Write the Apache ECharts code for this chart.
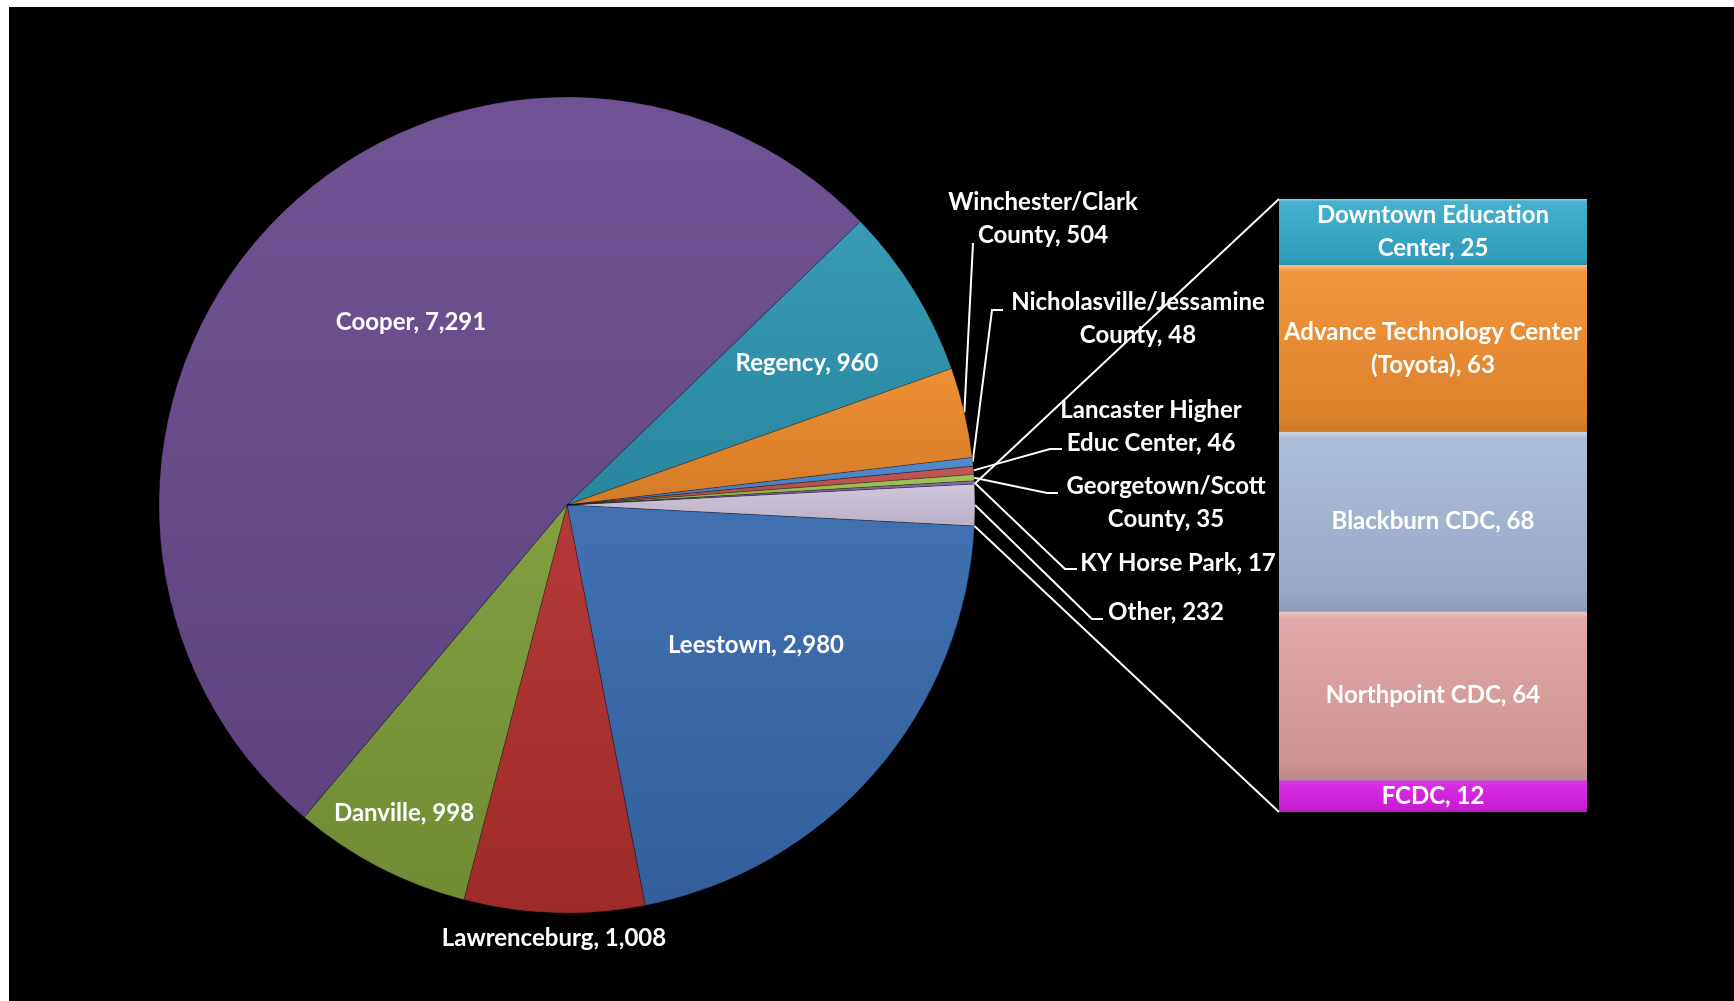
<!DOCTYPE html>
<html><head><meta charset="utf-8">
<script src="https://cdn.jsdelivr.net/npm/echarts@6/dist/echarts.min.js"></script>
<style>
html,body{margin:0;padding:0;background:#fff;overflow:hidden;}
#chart{position:absolute;left:9px;top:7px;width:1725px;height:994px;background:#000;}
</style></head><body><div id="chart"></div>
<script>
// ---- data ----
const pieNames = ['Other', 'Leestown', 'Lawrenceburg', 'Danville', 'Cooper', 'Regency',
  'Winchester/Clark County', 'Nicholasville/Jessamine County', 'Lancaster Higher Educ Center',
  'Georgetown/Scott County', 'KY Horse Park'];
const pieValues = [232, 2980, 1008, 998, 7291, 960, 504, 48, 46, 35, 17];
const barNames = ['Downtown Education Center', 'Advance Technology Center (Toyota)', 'Blackburn CDC', 'Northpoint CDC', 'FCDC'];
const barValues = [25, 63, 68, 64, 12];

// ---- styles ----
const pieColors = ['#cdc4dc', '#376aad', '#b0302e', '#7c9a38', '#684a8e', '#2d95b0',
  '#ec892a', '#4a86cc', '#c0504d', '#9bc250', '#8064a2'];
const barColors = ['#35aaca', '#f08c2e', '#a5b7d6', '#dfa0a0', '#d81ee4'];
const FONT = 'Lato';
const FS = 24;

// label layout (chart pixel coords)
const pieLabelSpec = {
  'Cooper': {x: 402, y: 315},
  'Regency': {x: 798, y: 356},
  'Leestown': {x: 747, y: 638},
  'Danville': {x: 395, y: 806},
  'Lawrenceburg': {x: 545, y: 931},
  'Winchester/Clark County': {x: 1034, y: 212, line: [964, 236], elbow: 0},
  'Nicholasville/Jessamine County': {x: 1129, y: 312, line: [994, 303], elbow: 11},
  'Lancaster Higher Educ Center': {x: 1142, y: 420, line: [1053, 442], elbow: 12},
  'Georgetown/Scott County': {x: 1157, y: 496, line: [1049, 486], elbow: 11},
  'KY Horse Park': {x: 1169, y: 556, line: [1068, 562], elbow: 12},
  'Other': {x: 1157, y: 605, line: [1094, 612], elbow: 11}
};

function shade(hex, f) {
  const n = parseInt(hex.slice(1), 16);
  let r = (n >> 16) & 255, g = (n >> 8) & 255, b = n & 255;
  const t = f < 0 ? 0 : 255, p = Math.abs(f);
  r = Math.round((t - r) * p + r); g = Math.round((t - g) * p + g); b = Math.round((t - b) * p + b);
  return 'rgb(' + r + ',' + g + ',' + b + ')';
}
function pieGrad(c) {
  return new echarts.graphic.LinearGradient(0, 0, 0, 1, [
    {offset: 0, color: shade(c, 0.05)},
    {offset: 1, color: shade(c, -0.1)}
  ]);
}
function barGrad(c) {
  return new echarts.graphic.LinearGradient(0, 0, 0, 1, [
    {offset: 0, color: shade(c, 0.45)},
    {offset: 0.04, color: shade(c, 0.08)},
    {offset: 0.9, color: shade(c, -0.08)},
    {offset: 1, color: shade(c, -0.15)}
  ]);
}
function wrap(text, max) {
  const words = text.split(' ');
  const lines = [];
  let cur = '';
  for (const w of words) {
    if (cur && (cur + ' ' + w).length > max) { lines.push(cur); cur = w; }
    else cur = cur ? cur + ' ' + w : w;
  }
  lines.push(cur);
  return lines.join('\n');
}
const fmt = v => v.toLocaleString('en-US');
const pieTotal = pieValues.reduce((a, b) => a + b, 0);
const barTotal = barValues.reduce((a, b) => a + b, 0);

const labelStyle = {color: '#fff', fontFamily: FONT, fontWeight: 'bold', fontSize: FS, lineHeight: 33};

const chart = echarts.init(document.getElementById('chart'));

const option = {
  backgroundColor: '#000',
  animation: false,
  grid: {left: 1270, top: 192, width: 308, height: 613},
  xAxis: {type: 'category', data: ['Other'], show: false},
  yAxis: {type: 'value', min: 0, max: barTotal, inverse: true, show: false},
  series: [
    {
      type: 'pie',
      center: [558, 498],
      radius: 408,
      startAngle: 360 * pieValues[0] / pieTotal / 2,
      clockwise: true,
      avoidLabelOverlap: false,
      data: pieNames.map((n, i) => ({
        name: n, value: pieValues[i],
        itemStyle: {color: pieGrad(pieColors[i])},
        labelLine: {show: !!pieLabelSpec[n].line}
      })),
      itemStyle: {borderColor: 'rgba(0,0,0,0.25)', borderWidth: 1},
      label: Object.assign({
        show: true, position: 'outside',
        formatter: p => {
          const t = p.name + ', ' + fmt(p.value);
          return p.value / pieTotal < 0.05 ? wrap(t, 17) : t;
        }
      }, labelStyle),
      labelLine: {show: true, length: 10, length2: 10, lineStyle: {color: '#fff', width: 2}},
      labelLayout: function (p) {
        const s = pieLabelSpec[pieNames[p.dataIndex]];
        const out = {x: s.x, y: s.y, align: 'center', verticalAlign: 'middle'};
        if (s.line && p.labelLinePoints && p.labelLinePoints[0]) {
          const a = p.labelLinePoints[0];
          out.labelLinePoints = [a, [s.line[0] - s.elbow, s.line[1]], s.line];
        }
        return out;
      },
      emphasis: {disabled: true}
    }
  ].concat(barNames.map((n, i) => ({
    type: 'bar', name: n, stack: 'other', barWidth: '100%',
    data: [barValues[i]],
    itemStyle: {color: barGrad(barColors[i])},
    label: Object.assign({
      show: true, position: 'inside',
      formatter: () => wrap(n + ', ' + fmt(barValues[i]), 25)
    }, labelStyle),
    emphasis: {disabled: true}
  })))
};
chart.setOption(option);

// connector lines from the "Other" slice to the bar
(function () {
  const otherLayout = chart.getModel().getSeriesByIndex(0).getData().getItemLayout(0);
  const gridRect = chart.getModel().getComponent('grid', 0).coordinateSystem.getRect();
  const cx = otherLayout.cx, cy = otherLayout.cy, r = otherLayout.r;
  const p1 = [cx + r * Math.cos(otherLayout.startAngle), cy + r * Math.sin(otherLayout.startAngle)];
  const p2 = [cx + r * Math.cos(otherLayout.endAngle), cy + r * Math.sin(otherLayout.endAngle)];
  const upper = p1[1] < p2[1] ? p1 : p2, lower = p1[1] < p2[1] ? p2 : p1;
  chart.setOption({
    graphic: [
      {type: 'line', shape: {x1: upper[0], y1: upper[1], x2: gridRect.x, y2: gridRect.y}, style: {stroke: '#fff', lineWidth: 2}, z: 10},
      {type: 'line', shape: {x1: lower[0], y1: lower[1], x2: gridRect.x, y2: gridRect.y + gridRect.height}, style: {stroke: '#fff', lineWidth: 2}, z: 10}
    ]
  });
})();
</script>
</body></html>
